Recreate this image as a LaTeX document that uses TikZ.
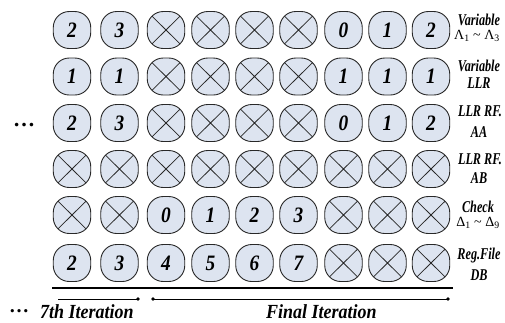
\documentclass[tikz,border=0pt]{standalone}
\usepackage{fontspec}
\usepackage{graphicx}
\setmainfont{Liberation Serif}
\definecolor{cellfill}{RGB}{221,228,240}
\definecolor{edge}{RGB}{40,40,40}
\newcommand{\cnd}[1]{\scalebox{0.74}[1]{#1}}
\newcommand{\cnum}[1]{\scalebox{0.88}[1]{#1}}
\begin{document}
\begin{tikzpicture}[x=1pt,y=-1pt,
  cell/.style={draw=edge, line width=0.9pt, fill=cellfill, rounded corners=16pt,
    minimum width=37.5pt, minimum height=37pt, inner sep=0pt,
    font=\fontsize{22}{22}\selectfont\bfseries\itshape},
  xcell/.style={cell, path picture={\draw[line width=0.8pt, edge]
      (path picture bounding box.south west) -- (path picture bounding box.north east)
      (path picture bounding box.north west) -- (path picture bounding box.south east);}},
  lab/.style={anchor=base, inner sep=0pt, font=\fontsize{16.5}{16.5}\selectfont\bfseries\itshape},
  glab/.style={anchor=base, inner sep=0pt, font=\fontsize{14}{14}\selectfont},
  itlab/.style={anchor=base west, inner sep=0pt, font=\fontsize{20}{20}\selectfont\bfseries\itshape},
  rule/.style={line width=1pt, black},
  dot/.style={circle, fill=black, inner sep=0pt, minimum size=3.6pt}
]
\useasboundingbox (0,0) rectangle (505,322);
\def\xmark{x}
\def\colxs{{72,119.5,166,210.5,254.5,298.5,343.5,387.5,431}}
\def\rowys{{30,76.5,123,169,215,263}}
\foreach \rowvals [count=\r] in {{2,3,x,x,x,x,0,1,2},{1,1,x,x,x,x,1,1,1},{2,3,x,x,x,x,0,1,2},{x,x,x,x,x,x,x,x,x},{x,x,0,1,2,3,x,x,x},{2,3,4,5,6,7,x,x,x}}{
  \foreach \v [count=\c] in \rowvals {
    \pgfmathsetmacro\cx{\colxs[\c-1]}
    \pgfmathsetmacro\cy{\rowys[\r-1]}
    \ifx\v\xmark
      \node[xcell] (n\r-\c) at (\cx,\cy) {};
    \else
      \node[cell] (n\r-\c) at (\cx,\cy) {\cnum{\v}};
    \fi
  }
}
% right labels
\node[lab]  (l1a) at (479,25) {\cnd{Variable}};
\node[glab] (l1b) at (477,39) {Λ\textsubscript{1} \textasciitilde{} Λ\textsubscript{3}};
\node[lab]  (l2a) at (479,71) {\cnd{Variable}};
\node[lab]  (l2b) at (479,88) {\cnd{LLR}};
\node[lab]  (l3a) at (480,116) {\cnd{LLR RF.}};
\node[lab]  (l3b) at (479,137) {\cnd{AA}};
\node[lab]  (l4a) at (480,164) {\cnd{LLR RF.}};
\node[lab]  (l4b) at (479,183) {\cnd{AB}};
\node[lab]  (l5a) at (478,212) {\cnd{Check}};
\node[glab] (l5b) at (478,226) {Δ\textsubscript{1} \textasciitilde{} Δ\textsubscript{9}};
\node[lab]  (l6a) at (479,259) {\cnd{Reg.File}};
\node[lab]  (l6b) at (479,280) {\cnd{DB}};
% left dots
\node[anchor=west, inner sep=0pt, font=\fontsize{22}{22}\selectfont\bfseries] (ldots) at (13,125) {…};
% bottom rules
\coordinate (r0) at (52,288);
\coordinate (r1) at (453,288);
\draw[line width=1.2pt] (r0) -- (r1);
\node[dot] (d1) at (138,299) {};
\node[dot] (d2) at (153,299) {};
\node[dot] (d3) at (448,299) {};
\coordinate (s0) at (58,299);
\draw[rule] (s0) -- (d1.center);
\draw[rule] (d2.center) -- (d3.center);
% bottom texts
\node[itlab] (t7) at (9,318) {\raisebox{5.5pt}{\upshape…}\hspace{11pt}\scalebox{0.9}[1]{7th Iteration}};
\node[itlab] (tf) at (266,318) {\scalebox{0.9}[1]{Final Iteration}};
\end{tikzpicture}
\end{document}
